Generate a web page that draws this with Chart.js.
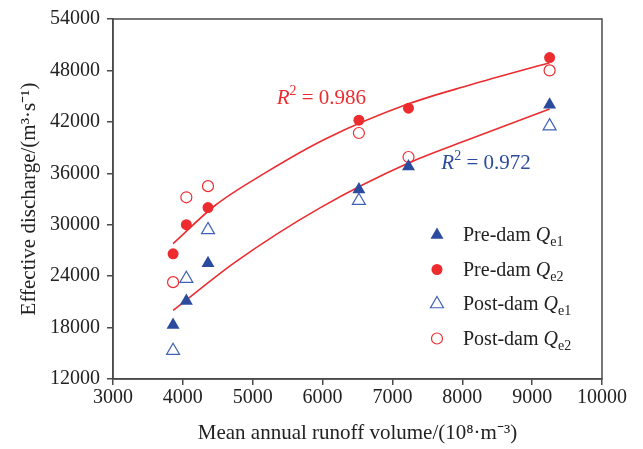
<!DOCTYPE html>
<html>
<head>
<meta charset="utf-8">
<script src="https://cdn.jsdelivr.net/npm/chart.js@4.4.1/dist/chart.umd.min.js"></script>
<style>
  body { margin: 0; background: #fff; }
  #wrap { width: 643px; height: 449px; }
</style>
</head>
<body>
<div id="wrap"><canvas id="runoffChart" width="643" height="449"></canvas></div>
<script>
// Data
const xTicks = [3000, 4000, 5000, 6000, 7000, 8000, 9000, 10000];
const yTicks = [12000, 18000, 24000, 30000, 36000, 42000, 48000, 54000];

const preDamX = [3860, 4050, 4360, 6520, 7230, 9250];
const preDamQe1 = [18300, 21100, 25500, 34100, 36800, 44000];
const preDamQe2 = [26600, 30000, 32000, 42200, 43600, 49500];

const postDamQe1X = [3860, 4050, 4360, 6520, 9250];
const postDamQe1 = [15300, 23700, 29400, 32800, 41500];
const postDamQe2X = [3860, 4050, 4360, 6520, 7230, 9250];
const postDamQe2 = [23300, 33200, 34500, 40700, 37900, 48000];

// fitted curves
const fitUpperX = [3860, 4470, 5190, 6040, 7230, 8110, 9250];
const fitUpper = [27800, 32300, 36100, 40000, 44100, 46300, 48900];
const fitLowerX = [3860, 4760, 5970, 7230, 8110, 9250];
const fitLower = [20000, 25700, 32000, 37200, 40000, 43500];

const legendNames = ['Pre-dam ', 'Pre-dam ', 'Post-dam ', 'Post-dam '];
const legendSubs = ['e1', 'e2', 'e1', 'e2'];

const r2Labels = ['0.986', '0.972'];
const r2X = [5343, 7700];
const r2Y = [44100, 36450];

const RED = '#ec2c2f';
const BLUE = '#2b4c9e';
const BLUE_OPEN = '#4063b8';
const AXIS = '#4a4a4a';
const SERIF = '"Liberation Serif", "Times New Roman", serif';

function pts(xs, ys) {
    return xs.map((x, i) => ({ x: x, y: ys[i] }));
}

// draw a run of text pieces with italics / sub / superscripts
function drawRich(ctx, x, y, parts, color) {
    ctx.save();
    ctx.fillStyle = color;
    ctx.textBaseline = 'alphabetic';
    ctx.textAlign = 'left';
    parts.forEach(p => {
        ctx.font = (p.italic ? 'italic ' : '') + p.size + 'px ' + SERIF;
        ctx.fillText(p.t, x, y + (p.dy || 0));
        x += ctx.measureText(p.t).width;
    });
    ctx.restore();
}

const legendMarkers = [
    { pointStyle: 'triangle', radius: 7.5, fill: BLUE, stroke: BLUE, borderWidth: 0.01 },
    { pointStyle: 'circle', radius: 5.5, fill: RED, stroke: RED, borderWidth: 0.01 },
    { pointStyle: 'triangle', radius: 7.5, fill: '#fff', stroke: BLUE_OPEN, borderWidth: 1.2 },
    { pointStyle: 'circle', radius: 5.5, fill: '#fff', stroke: RED, borderWidth: 1.2 }
];

const decorPlugin = {
    id: 'decor',
    afterDraw(chart) {
        const ctx = chart.ctx;
        const a = chart.chartArea;
        const xs = chart.scales.x;
        const ys = chart.scales.y;

        // frame
        ctx.save();
        ctx.strokeStyle = AXIS;
        ctx.lineWidth = 1.5;
        ctx.strokeRect(a.left, a.top, a.right - a.left, a.bottom - a.top);
        ctx.restore();

        // R^2 labels
        const r2Colors = [RED, BLUE];
        r2Labels.forEach((v, i) => {
            drawRich(ctx, xs.getPixelForValue(r2X[i]), ys.getPixelForValue(r2Y[i]), [
                { t: 'R', size: 21, italic: true },
                { t: '2', size: 14, dy: -9 },
                { t: ' = ' + v, size: 21 }
            ], r2Colors[i]);
        });

        // legend
        const lx = a.right - 165;
        const ly = a.top + 216;
        legendNames.forEach((name, i) => {
            const m = legendMarkers[i];
            const y = ly + i * 34.5;
            ctx.save();
            ctx.fillStyle = m.fill;
            ctx.strokeStyle = m.stroke;
            ctx.lineWidth = m.borderWidth;
            Chart.helpers.drawPoint(ctx, { pointStyle: m.pointStyle, radius: m.radius, rotation: 0, borderWidth: m.borderWidth }, lx, y);
            ctx.restore();
            drawRich(ctx, lx + 26, y + 6, [
                { t: name, size: 20 },
                { t: 'Q', size: 20, italic: true },
                { t: legendSubs[i], size: 14, dy: 5 }
            ], '#222');
        });
    }
};

const ctx = document.getElementById('runoffChart').getContext('2d');
const runoffChart = new Chart(ctx, {
    type: 'scatter',
    data: {
        datasets: [
            {
                label: 'Pre-dam Qe1',
                data: pts(preDamX, preDamQe1),
                pointStyle: 'triangle',
                pointRadius: 7.5,
                backgroundColor: BLUE,
                borderColor: BLUE,
                borderWidth: 0
            },
            {
                label: 'Pre-dam Qe2',
                data: pts(preDamX, preDamQe2),
                pointStyle: 'circle',
                pointRadius: 5.5,
                backgroundColor: RED,
                borderColor: RED,
                borderWidth: 0
            },
            {
                label: 'Post-dam Qe1',
                data: pts(postDamQe1X, postDamQe1),
                pointStyle: 'triangle',
                pointRadius: 7.5,
                backgroundColor: 'rgba(255,255,255,0)',
                borderColor: BLUE_OPEN,
                borderWidth: 1.2
            },
            {
                label: 'Post-dam Qe2',
                data: pts(postDamQe2X, postDamQe2),
                pointStyle: 'circle',
                pointRadius: 5.5,
                backgroundColor: 'rgba(255,255,255,0)',
                borderColor: RED,
                borderWidth: 1.2
            },
            {
                label: 'Fit Qe2',
                data: pts(fitUpperX, fitUpper),
                showLine: true,
                pointRadius: 0,
                borderColor: RED,
                borderWidth: 1.6,
                cubicInterpolationMode: 'monotone'
            },
            {
                label: 'Fit Qe1',
                data: pts(fitLowerX, fitLower),
                showLine: true,
                pointRadius: 0,
                borderColor: RED,
                borderWidth: 1.6,
                cubicInterpolationMode: 'monotone'
            }
        ]
    },
    options: {
        responsive: false,
        animation: false,
        layout: { padding: { top: 15, right: 41, left: 0, bottom: 0 } },
        plugins: {
            legend: { display: false },
            tooltip: { enabled: false }
        },
        scales: {
            x: {
                type: 'linear',
                min: 3000,
                max: 10000,
                afterBuildTicks: s => { s.ticks = xTicks.map(v => ({ value: v })); },
                afterFit: s => { s.height = 70; },
                grid: { drawOnChartArea: false, drawTicks: true, tickLength: 6, color: AXIS, lineWidth: 1.5 },
                border: { color: AXIS, width: 1.5 },
                ticks: {
                    padding: 1,
                    color: '#222',
                    font: { family: SERIF, size: 20 },
                    callback: v => String(v)
                },
                title: {
                    display: true,
                    text: 'Mean annual runoff volume/(10⁸·m⁻³)',
                    color: '#222',
                    font: { family: SERIF, size: 21 },
                    padding: { top: 0, bottom: 3 }
                }
            },
            y: {
                type: 'linear',
                min: 12000,
                max: 54000,
                afterBuildTicks: s => { s.ticks = yTicks.map(v => ({ value: v })); },
                afterFit: s => { s.width = 113; },
                grid: { drawOnChartArea: false, drawTicks: true, tickLength: 6, color: AXIS, lineWidth: 1.5 },
                border: { color: AXIS, width: 1.5 },
                ticks: {
                    padding: 7,
                    color: '#222',
                    font: { family: SERIF, size: 20 },
                    callback: v => String(v)
                },
                title: {
                    display: true,
                    text: 'Effective discharge/(m³·s⁻¹)',
                    color: '#222',
                    font: { family: SERIF, size: 21 },
                    padding: { top: 17, bottom: 0 }
                }
            }
        }
    },
    plugins: [decorPlugin]
});
</script>
</body>
</html>
